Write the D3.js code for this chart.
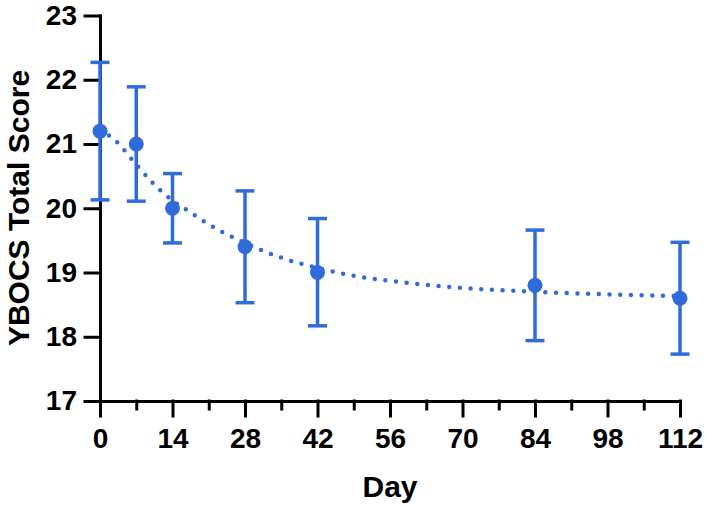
<!DOCTYPE html>
<html>
<head>
<meta charset="utf-8">
<script src="https://cdn.jsdelivr.net/npm/d3@7"></script>
<style>
  body { margin: 0; background: #fff; }
  svg text { font-family: "Liberation Sans", Arial, Helvetica, sans-serif; font-weight: bold; fill: #000; }
</style>
</head>
<body>
<svg id="chart"></svg>
<script>
// Observed means and error bar bounds
const days = [0, 7, 14, 28, 42, 84, 112];
const means = [21.2, 21.0, 20.0, 19.4, 19.0, 18.8, 18.6];
const upper = [22.27, 21.89, 20.54, 20.27, 19.84, 19.66, 19.47];
const lower = [20.13, 20.11, 19.46, 18.53, 18.17, 17.94, 17.73];

// Fitted curve
const fitDays = [0, 3, 7, 10, 14, 17, 21, 28, 35, 42, 49, 56, 70, 84, 98, 112];
const fitValues = [21.22, 21.05, 20.68, 20.41, 20.12, 19.96, 19.75, 19.46, 19.23, 19.07, 18.95, 18.87, 18.76, 18.7, 18.66, 18.63];

// Ticks
const xMajorTicks = [0, 14, 28, 42, 56, 70, 84, 98, 112];
const xMinorTicks = [7, 21, 35, 49, 63, 77, 91, 105];
const yTicks = [17, 18, 19, 20, 21, 22, 23];

const width = 706;
const height = 506;
const blue = '#2f6bda';

const svg = d3.select('#chart').attr('width', width).attr('height', height);

//Scales
const x = d3.scaleLinear().domain([0, 112]).range([100, 680]);
const y = d3.scaleLinear().domain([17, 23]).range([401, 15.5]);

//Y axis
const yAxis = svg.append('g')
  .attr('transform', 'translate(100,0)')
  .call(d3.axisLeft(y).tickValues(yTicks).tickFormat(d3.format('d'))
    .tickSize(15).tickSizeOuter(0).tickPadding(8));

//X axis (major + minor ticks)
const xAxis = svg.append('g')
  .attr('transform', 'translate(0,401)')
  .call(d3.axisBottom(x).tickValues(xMajorTicks).tickFormat(d3.format('d'))
    .tickSize(15).tickSizeOuter(0).tickPadding(12));

const xMinor = svg.append('g')
  .attr('transform', 'translate(0,401)')
  .call(d3.axisBottom(x).tickValues(xMinorTicks).tickSize(8).tickFormat(''));
xMinor.select('.domain').remove();

[yAxis, xAxis, xMinor].forEach((g) => {
  g.selectAll('.domain, line')
    .attr('stroke', '#000')
    .attr('stroke-width', 3)
    .attr('stroke-linecap', 'square');
  g.selectAll('text').style('font-size', '28px').attr('fill', '#000');
});

//Axis titles
svg.append('text')
  .attr('x', 390)
  .attr('y', 497)
  .attr('text-anchor', 'middle')
  .style('font-size', '30px')
  .text('Day');

svg.append('text')
  .attr('transform', 'translate(29,208) rotate(-90)')
  .attr('text-anchor', 'middle')
  .style('font-size', '30px')
  .text('YBOCS Total Score');

//Fitted dotted curve
const fitLine = d3.line()
  .x((d, i) => x(fitDays[i]))
  .y((d) => y(d))
  .curve(d3.curveMonotoneX);

svg.append('path')
  .datum(fitValues)
  .attr('fill', 'none')
  .attr('stroke', blue)
  .attr('stroke-width', 4.5)
  .attr('stroke-linecap', 'round')
  .attr('stroke-dasharray', '0,10.7')
  .attr('d', fitLine);

//Error bars
const bars = svg.append('g').attr('stroke', blue).attr('stroke-width', 3.5);
days.forEach((d, i) => {
  bars.append('line')
    .attr('x1', x(d)).attr('x2', x(d))
    .attr('y1', y(upper[i])).attr('y2', y(lower[i]));
  [upper[i], lower[i]].forEach((v) => {
    bars.append('line')
      .attr('x1', x(d) - 9.5).attr('x2', x(d) + 9.5)
      .attr('y1', y(v)).attr('y2', y(v));
  });
});

//Mean points
svg.selectAll('.mean-point')
  .data(means)
  .enter()
  .append('circle')
  .attr('class', 'mean-point')
  .attr('cx', (d, i) => x(days[i]))
  .attr('cy', (d) => y(d))
  .attr('r', 7.5)
  .attr('fill', blue);
</script>
</body>
</html>
